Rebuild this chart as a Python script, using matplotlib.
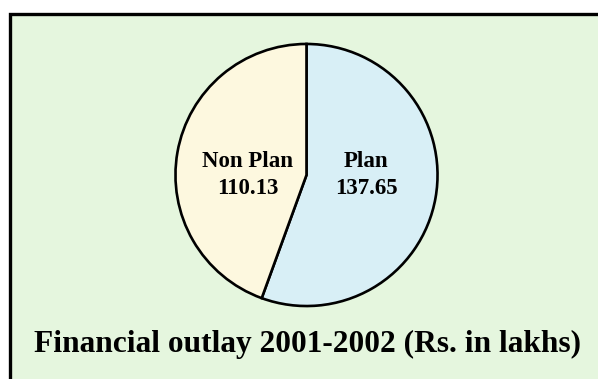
import matplotlib
matplotlib.use("Agg")
import matplotlib.pyplot as plt
from matplotlib.patches import Rectangle

categories = ["Plan", "Non Plan"]
values = [137.65, 110.13]
colors = ["#d8eff6", "#fdf8df"]
title = "Financial outlay 2001-2002 (Rs. in lakhs)"

W, H = 598, 379
fig = plt.figure(figsize=(W / 100, H / 100), dpi=100)
fig.patch.set_facecolor("white")

# Framed green panel (background axes)
bg = fig.add_axes([0, 0, 1, 1], zorder=-1)
bg.set_xlim(0, W)
bg.set_ylim(H, 0)
bg.axis("off")
bg.add_patch(Rectangle((10, 14), W + 20, H, facecolor="#e5f6de",
                       edgecolor="black", linewidth=2.4))

cx, cy, r = 306.5, 175, 133
ax = fig.add_axes([(cx - r) / W, (H - cy - r) / H, 2 * r / W, 2 * r / H])
ax.set_facecolor("none")
wedges, _ = ax.pie(values, colors=colors, startangle=90, counterclock=False,
                   wedgeprops=dict(edgecolor="black", linewidth=1.9))
ax.set_xlim(-1.015, 1.015)
ax.set_ylim(-1.015, 1.015)
ax.set_aspect("auto")
ax.axis("off")

font = dict(family="Liberation Serif", weight="bold", fontsize=16.5,
            ha="center", va="center", linespacing=1.4)
ax.text(0.455, 0.0, f"{categories[0]}\n{values[0]:.2f}", **font)
ax.text(-0.45, 0.0, f"{categories[1]}\n{values[1]:.2f}", **font)

fig.text(307 / W, 1 - 344 / H, title, family="Liberation Serif",
         weight="bold", fontsize=22.6, ha="center", va="center")

fig.savefig("out.png", dpi=100, facecolor=fig.get_facecolor())
